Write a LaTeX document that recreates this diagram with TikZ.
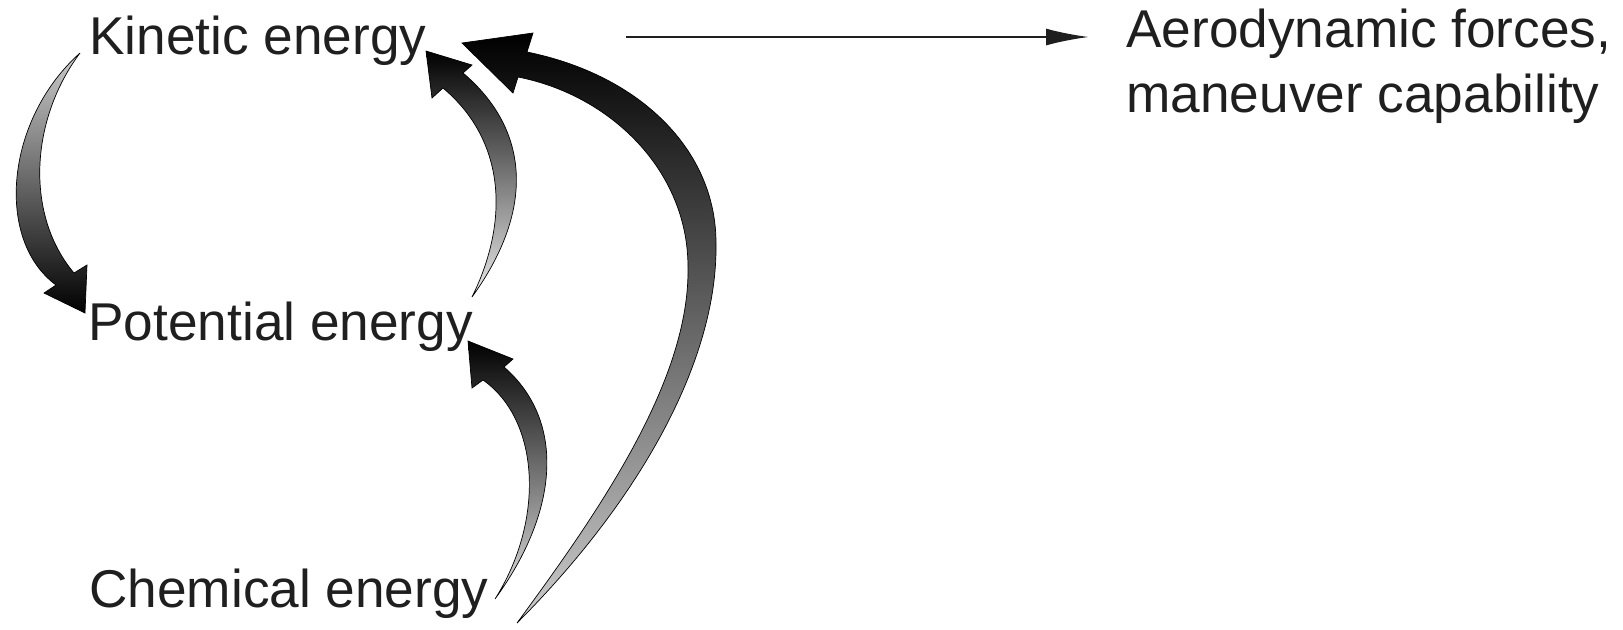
\documentclass[tikz,border=0pt]{standalone}
\usepackage{fontspec}
\setmainfont{Liberation Sans}
\usetikzlibrary{arrows.meta}
\begin{document}
\begin{tikzpicture}[x=0.5pt,y=-0.5pt,
  lbl/.style={inner sep=0pt, anchor=base west, font=\fontsize{26.6}{32.5}\selectfont, text=black!88},
  bigarrow/.style={draw=black, line width=0.35pt},
  ]
\useasboundingbox (0,0) rectangle (1623,629);
% labels
\node[lbl] (kin) at (89,54) {Kinetic energy};
\node[lbl] (pot) at (88,340) {Potential energy};
\node[lbl] (chem) at (89,607) {Chemical energy};
\node[lbl, align=left] (aero) at (1126,112) {Aerodynamic forces,\\maneuver capability};
% straight arrow
\coordinate (hs) at (626,37);
\coordinate (he) at (1089,37);
\draw[-{Latex[length=21.5pt,width=8.5pt]}, line width=1.1pt, black!88] (hs) -- (he);
% kinetic -> potential
\path[bigarrow, top color=black!20, bottom color=black]
 (80,53) .. controls (5,120) and (-5,240) .. (56,285) -- (44,293) -- (85,313) -- (87,265) -- (74,273)
 .. controls (25,215) and (30,120) .. (80,53) -- cycle;
% potential -> kinetic
\path[bigarrow, top color=black, bottom color=black!8]
 (472,297) .. controls (535,210) and (530,130) .. (463,73) -- (472,65) -- (426,51) -- (432,98) -- (443,88)
 .. controls (505,140) and (510,220) .. (472,297) -- cycle;
% chemical -> potential
\path[bigarrow, top color=black, bottom color=black!12]
 (495,599) .. controls (560,510) and (565,420) .. (504,367) -- (513,359) -- (468,341) -- (472,388) -- (483,380)
 .. controls (540,420) and (545,520) .. (495,599) -- cycle;
% chemical -> kinetic
\path[bigarrow, top color=black, bottom color=black!20]
 (517,623) .. controls (640,500) and (718,360) .. (716,243)
 .. controls (716,150) and (640,75) .. (527,52) -- (533,33) -- (462,43) -- (513,93) -- (518,77)
 .. controls (610,95) and (688,170) .. (688,267)
 .. controls (690,380) and (600,510) .. (517,623) -- cycle;
\end{tikzpicture}
\end{document}
